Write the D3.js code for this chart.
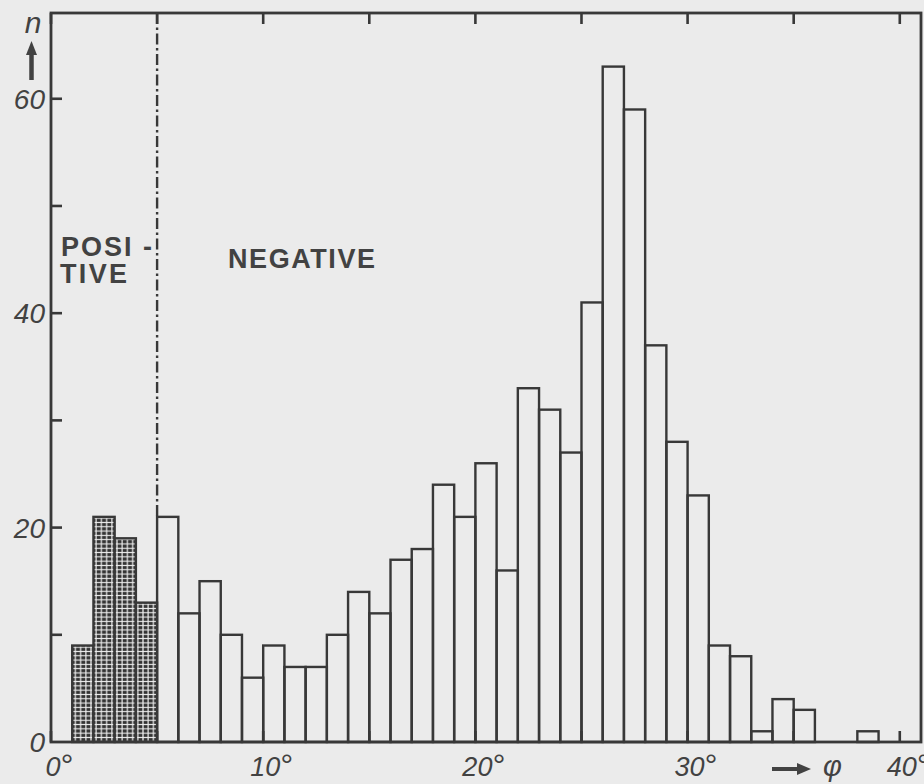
<!DOCTYPE html>
<html>
<head>
<meta charset="utf-8">
<script src="https://cdn.jsdelivr.net/npm/d3@7"></script>
<style>
  html, body { margin: 0; padding: 0; background: #ebebeb; }
  svg { display: block; }
</style>
</head>
<body>
<svg id="chart" width="924" height="784"></svg>
<script>
// ---- data (bin start in degrees, 1° wide bins) ----
const positiveBins   = [1, 2, 3, 4];
const positiveCounts = [9, 21, 19, 13];
const negativeBins   = [5,6,7,8,9,10,11,12,13,14,15,16,17,18,19,20,21,22,23,24,25,26,27,28,29,30,31,32,33,34,35,36,37,38];
const negativeCounts = [21,12,15,10,6,9,7,7,10,14,12,17,18,24,21,26,16,33,31,27,41,63,59,37,28,23,9,8,1,4,3,0,0,1];
const xTickLabels = [0, 10, 20, 30, 40];
const xTickMarks  = [0, 5, 10, 15, 20, 25, 30, 35, 40];
const yTickLabels = [0, 20, 40, 60];
const yTickMarks  = [10, 20, 30, 40, 50, 60];
const boundary = 5;
const labelPositive = ["POSI -", "TIVE"];
const labelNegative = "NEGATIVE";
const yAxisTitle = "n";
const xAxisTitle = "φ";

// ---- layout ----
const ink = "#383838";
const textInk = "#424242";
const bg = "#ebebeb";
const svg = d3.select("#chart");
const L = 51, R = 921, T = 13, B = 742;
const x = d3.scaleLinear().domain([0, 41]).range([L, R]);
const y = d3.scaleLinear().domain([0, 68]).range([B, T]);

svg.append("rect").attr("width", 924).attr("height", 784).attr("fill", bg);

// hatch pattern
const defs = svg.append("defs");
const pat = defs.append("pattern").attr("id", "grid")
  .attr("patternUnits", "userSpaceOnUse").attr("width", 5.2).attr("height", 4.3);
pat.append("rect").attr("width", 5.2).attr("height", 4.3).attr("fill", "#333");
pat.append("rect").attr("x", 2).attr("y", 0).attr("width", 1.2).attr("height", 4.3).attr("fill", "#eeeeee");
pat.append("rect").attr("x", 0).attr("y", 1.6).attr("width", 5.2).attr("height", 1.1).attr("fill", "#eeeeee");

const pos = positiveBins.map((b, i) => ({b, n: positiveCounts[i]}));
const neg = negativeBins.map((b, i) => ({b, n: negativeCounts[i]})).filter(d => d.n > 0);

// dash-dot boundary line
svg.append("line")
  .attr("x1", x(boundary)).attr("x2", x(boundary))
  .attr("y1", y(68)).attr("y2", y(negativeCounts[0]))
  .attr("stroke", ink).attr("stroke-width", 2.4)
  .attr("stroke-dasharray", "11,3.5,2.5,3.5");

// bars
svg.append("g").selectAll("rect").data(neg).join("rect")
  .attr("x", d => x(d.b)).attr("width", d => x(d.b + 1) - x(d.b))
  .attr("y", d => y(d.n)).attr("height", d => y(0) - y(d.n))
  .attr("fill", "none").attr("stroke", ink).attr("stroke-width", 2.4);

svg.append("g").selectAll("rect").data(pos).join("rect")
  .attr("x", d => x(d.b)).attr("width", d => x(d.b + 1) - x(d.b))
  .attr("y", d => y(d.n)).attr("height", d => y(0) - y(d.n))
  .attr("fill", "url(#grid)").attr("stroke", ink).attr("stroke-width", 2.4);

// frame
svg.append("rect").attr("x", L).attr("y", T).attr("width", R - L).attr("height", B - T)
  .attr("fill", "none").attr("stroke", ink).attr("stroke-width", 2.8);

// ticks (inward)
const tk = 11;
const gt = svg.append("g").attr("stroke", ink).attr("stroke-width", 2.6);
xTickMarks.forEach(v => {
  gt.append("line").attr("x1", x(v)).attr("x2", x(v)).attr("y1", T).attr("y2", T + tk);
  gt.append("line").attr("x1", x(v)).attr("x2", x(v)).attr("y1", B).attr("y2", B - tk);
});
yTickMarks.forEach(v => {
  gt.append("line").attr("x1", L).attr("x2", L + tk).attr("y1", y(v)).attr("y2", y(v));
});

const fontNum = "'Liberation Sans', Arial, sans-serif";

// y tick labels
svg.append("g").selectAll("text").data(yTickLabels).join("text")
  .attr("x", 45).attr("y", d => y(d) + 10)
  .attr("text-anchor", "end")
  .attr("font-family", fontNum).attr("font-style", "italic").attr("font-size", 28)
  .attr("fill", textInk).text(d => d);

// x tick labels: digits centred on the tick, degree sign after
const gx = svg.append("g");
xTickLabels.forEach(v => {
  const t = gx.append("text").attr("x", x(v) + 2).attr("y", 776)
    .attr("text-anchor", "middle")
    .attr("font-family", fontNum).attr("font-style", "italic").attr("font-size", 27)
    .attr("fill", textInk).text(v);
  const w = t.node().getComputedTextLength();
  gx.append("text").attr("x", x(v) + 1 + w / 2).attr("y", 776)
    .attr("font-family", fontNum).attr("font-style", "italic").attr("font-size", 32)
    .attr("fill", textInk).text("°");
});

// y axis title "n" with up arrow
svg.append("text").attr("x", 33).attr("y", 33).attr("text-anchor", "middle")
  .attr("font-family", fontNum).attr("font-style", "italic").attr("font-size", 30)
  .attr("fill", textInk).text(yAxisTitle);
svg.append("line").attr("x1", 31.5).attr("x2", 31.5).attr("y1", 50).attr("y2", 80)
  .attr("stroke", textInk).attr("stroke-width", 4.5);
svg.append("path").attr("d", "M31.5,41 L26,55 L37,55 Z").attr("fill", textInk);

// x axis title arrow and φ
svg.append("line").attr("x1", 772).attr("x2", 800).attr("y1", 769).attr("y2", 769)
  .attr("stroke", textInk).attr("stroke-width", 4);
svg.append("path").attr("d", "M811,769 L797,763 L797,775 Z").attr("fill", textInk);
svg.append("text").attr("x", 823).attr("y", 776)
  .attr("font-family", fontNum).attr("font-style", "italic").attr("font-size", 29)
  .attr("fill", textInk).text(xAxisTitle);

// region labels
const gl = svg.append("g").attr("font-family", fontNum).attr("font-weight", "bold")
  .attr("font-size", 27).attr("fill", textInk);
gl.append("text").attr("x", 61).attr("y", 256).attr("textLength", 91).text(labelPositive[0]);
gl.append("text").attr("x", 60).attr("y", 283).attr("textLength", 67).text(labelPositive[1]);
gl.append("text").attr("x", 228).attr("y", 268).attr("textLength", 147).text(labelNegative);
</script>
</body>
</html>
